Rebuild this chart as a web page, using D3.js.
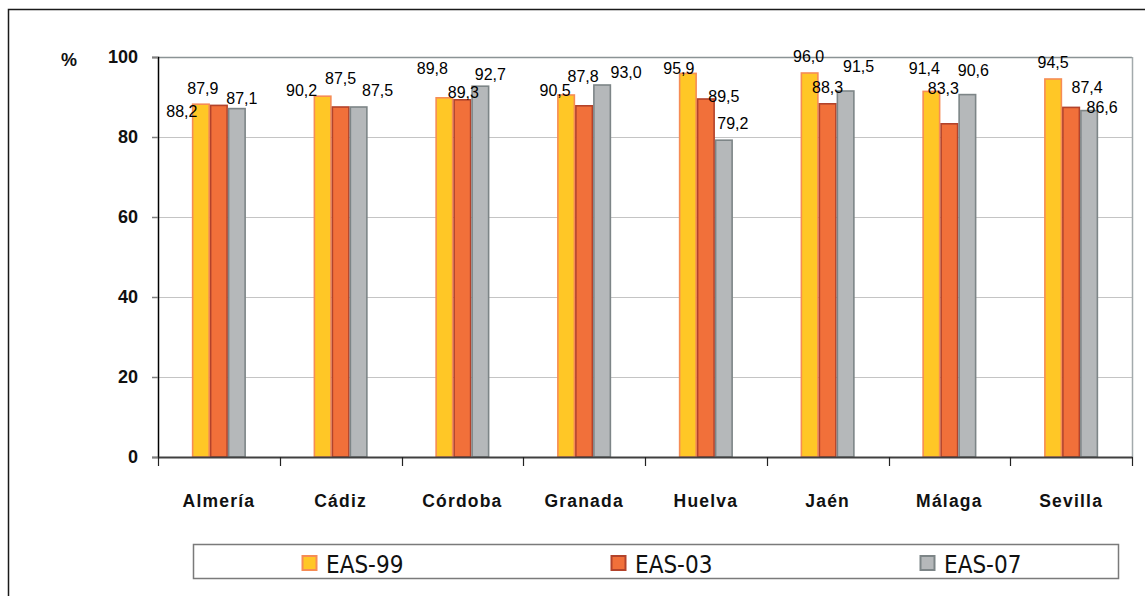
<!DOCTYPE html>
<html>
<head>
<meta charset="utf-8">
<script src="https://cdn.jsdelivr.net/npm/d3@7/dist/d3.min.js"></script>
<style>
  html, body { margin: 0; padding: 0; background: #fff; }
  svg { display: block; }
</style>
</head>
<body>
<svg id="chart" width="1145" height="596"></svg>
<script>
// ---- Data ----
const categories = ["Almería", "Cádiz", "Córdoba", "Granada", "Huelva", "Jaén", "Málaga", "Sevilla"];
const seriesNames = ["EAS-99", "EAS-03", "EAS-07"];
const eas99 = [88.2, 90.2, 89.8, 90.5, 95.9, 96.0, 91.4, 94.5];
const eas03 = [87.9, 87.5, 89.3, 87.8, 89.5, 88.3, 83.3, 87.4];
const eas07 = [87.1, 87.5, 92.7, 93.0, 79.2, 91.5, 90.6, 86.6];
const yTicks = [0, 20, 40, 60, 80, 100];

// label nudges (px) relative to bar top centre, per series per category
const labelNudge99 = [[-19, 7], [-21, -6], [-12, -30], [-11, -5], [-9, -5], [-1, -17], [-7, -23], [0, -17]];
const labelNudge03 = [[-16, -17], [0, -29], [1, -8], [-1, -30], [18, -3], [0, -17], [-6, -36], [16, -20]];
const labelNudge07 = [[5, -11], [19, -17], [10, -12], [24, -13], [9, -17], [13, -25], [6, -25], [13, -4]];

// ---- Styles ----
const fills = ["#FFC726", "#F1703A", "#B5B8BA"];
const strokes = ["#F68C55", "#B3432B", "#7D8587"];

const series = [eas99, eas03, eas07];
const nudges = [labelNudge99, labelNudge03, labelNudge07];

const svg = d3.select("#chart");

// outer frame
svg.append("rect").attr("x", 8.5).attr("y", 9.5).attr("width", 1160).attr("height", 620)
  .attr("fill", "none").attr("stroke", "#1a1a1a").attr("stroke-width", 1.5);

const plot = { left: 158, right: 1132, top: 57, bottom: 457 };
const groupWidth = 54;

const x0 = d3.scaleBand().domain(categories).range([plot.left, plot.right]).padding(0);
const x1 = d3.scaleBand().domain(seriesNames).range([0, groupWidth]).padding(0);
const y = d3.scaleLinear().domain([0, 100]).range([plot.bottom, plot.top]);
const groupOffset = (x0.bandwidth() - groupWidth) / 2;

// gridlines
svg.append("g").selectAll("line").data(yTicks.filter(t => t > 0 && t < 100)).join("line")
  .attr("x1", plot.left).attr("x2", plot.right)
  .attr("y1", d => Math.round(y(d)) + 0.5).attr("y2", d => Math.round(y(d)) + 0.5)
  .attr("stroke", "#c4c4c4").attr("stroke-width", 1.2);
// top and right border of plot area
svg.append("line").attr("x1", plot.left).attr("x2", plot.right)
  .attr("y1", y(100) + 0.5).attr("y2", y(100) + 0.5)
  .attr("stroke", "#8b9395").attr("stroke-width", 1.5);
svg.append("line").attr("x1", plot.right + 0.5).attr("x2", plot.right + 0.5)
  .attr("y1", y(100)).attr("y2", y(0))
  .attr("stroke", "#a3aaac").attr("stroke-width", 1.5);

// bars
const groups = svg.append("g").selectAll("g").data(categories).join("g")
  .attr("transform", d => `translate(${x0(d) + groupOffset},0)`);

groups.each(function(cat, ci) {
  const g = d3.select(this);
  series.forEach((vals, si) => {
    const v = vals[ci];
    g.append("rect")
      .attr("x", x1(seriesNames[si]) + 0.75)
      .attr("y", y(v))
      .attr("width", x1.bandwidth() - 1.5)
      .attr("height", y(0) - y(v))
      .attr("fill", fills[si])
      .attr("stroke", strokes[si])
      .attr("stroke-width", 1.6);
  });
});

// y axis
const yAxis = d3.axisLeft(y).tickValues(yTicks).tickSize(6).tickPadding(14).tickFormat(d3.format("d"));
const ya = svg.append("g").attr("transform", `translate(${plot.left},0)`).call(yAxis);
ya.select(".domain").attr("stroke", "#000").attr("stroke-width", 1.5);
ya.selectAll(".tick line").attr("stroke", "#808080").attr("stroke-width", 1.5);
ya.selectAll(".tick text").attr("font-family", "'Liberation Sans', Arial, sans-serif")
  .attr("font-size", 18).attr("font-weight", "bold").attr("fill", "#111");

// x axis
const xAxis = d3.axisBottom(x0).tickSize(0).tickPadding(38);
const xa = svg.append("g").attr("transform", `translate(0,${plot.bottom})`).call(xAxis);
xa.select(".domain").attr("stroke", "#404040").attr("stroke-width", 2);
xa.selectAll(".tick text").attr("font-family", "'Liberation Sans', Arial, sans-serif")
  .attr("font-size", 17.5).attr("font-weight", "bold").attr("fill", "#111")
  .attr("letter-spacing", "1.2px");
// category boundary ticks
const boundaries = categories.map(c => x0(c)).concat([x0(categories[categories.length - 1]) + x0.bandwidth()]);
svg.append("g").selectAll("line").data(boundaries).join("line")
  .attr("x1", d => Math.round(d) + 0.5).attr("x2", d => Math.round(d) + 0.5)
  .attr("y1", plot.bottom).attr("y2", plot.bottom + 9)
  .attr("stroke", "#222").attr("stroke-width", 1.2);

// % unit label
svg.append("text").attr("x", 69).attr("y", 66).attr("text-anchor", "middle")
  .attr("font-family", "'Liberation Sans', Arial, sans-serif").attr("font-size", 18)
  .attr("font-weight", "bold").attr("fill", "#111").text("%");

// data labels
const fmt = v => d3.format(".1f")(v).replace(".", ",");
const labels = svg.append("g");
categories.forEach((cat, ci) => {
  series.forEach((vals, si) => {
    const v = vals[ci];
    const cx = x0(cat) + groupOffset + x1(seriesNames[si]) + x1.bandwidth() / 2;
    const [dx, dy] = nudges[si][ci];
    labels.append("text")
      .attr("x", cx + dx).attr("y", y(v) + dy + 6)
      .attr("text-anchor", "middle")
      .attr("font-family", "'Liberation Sans', Arial, sans-serif")
      .attr("font-size", 16).attr("fill", "#000")
      .text(fmt(v));
  });
});

// legend
const legend = { x: 193, y: 544, w: 925, h: 34 };
svg.append("rect").attr("x", legend.x + 0.5).attr("y", legend.y + 0.5)
  .attr("width", legend.w).attr("height", legend.h)
  .attr("fill", "#fff").attr("stroke", "#7a7a7a").attr("stroke-width", 1.5);
const legendX = d3.scalePoint().domain(seriesNames).range([302, 920]);
const li = svg.append("g").selectAll("g").data(seriesNames).join("g")
  .attr("transform", d => `translate(${legendX(d)},${legend.y + 12})`);
li.append("rect").attr("x", 0.5).attr("y", 0).attr("width", 14).attr("height", 14)
  .attr("fill", (d, i) => fills[i]).attr("stroke", (d, i) => strokes[i]).attr("stroke-width", 2);
li.append("text").attr("x", 24).attr("y", 17)
  .attr("font-family", "'Liberation Sans Narrow', 'Arial Narrow', 'DejaVu Sans Condensed', sans-serif")
  .attr("font-stretch", "condensed")
  .attr("font-size", 24).attr("fill", "#111").text(d => d);
</script>
</body>
</html>
